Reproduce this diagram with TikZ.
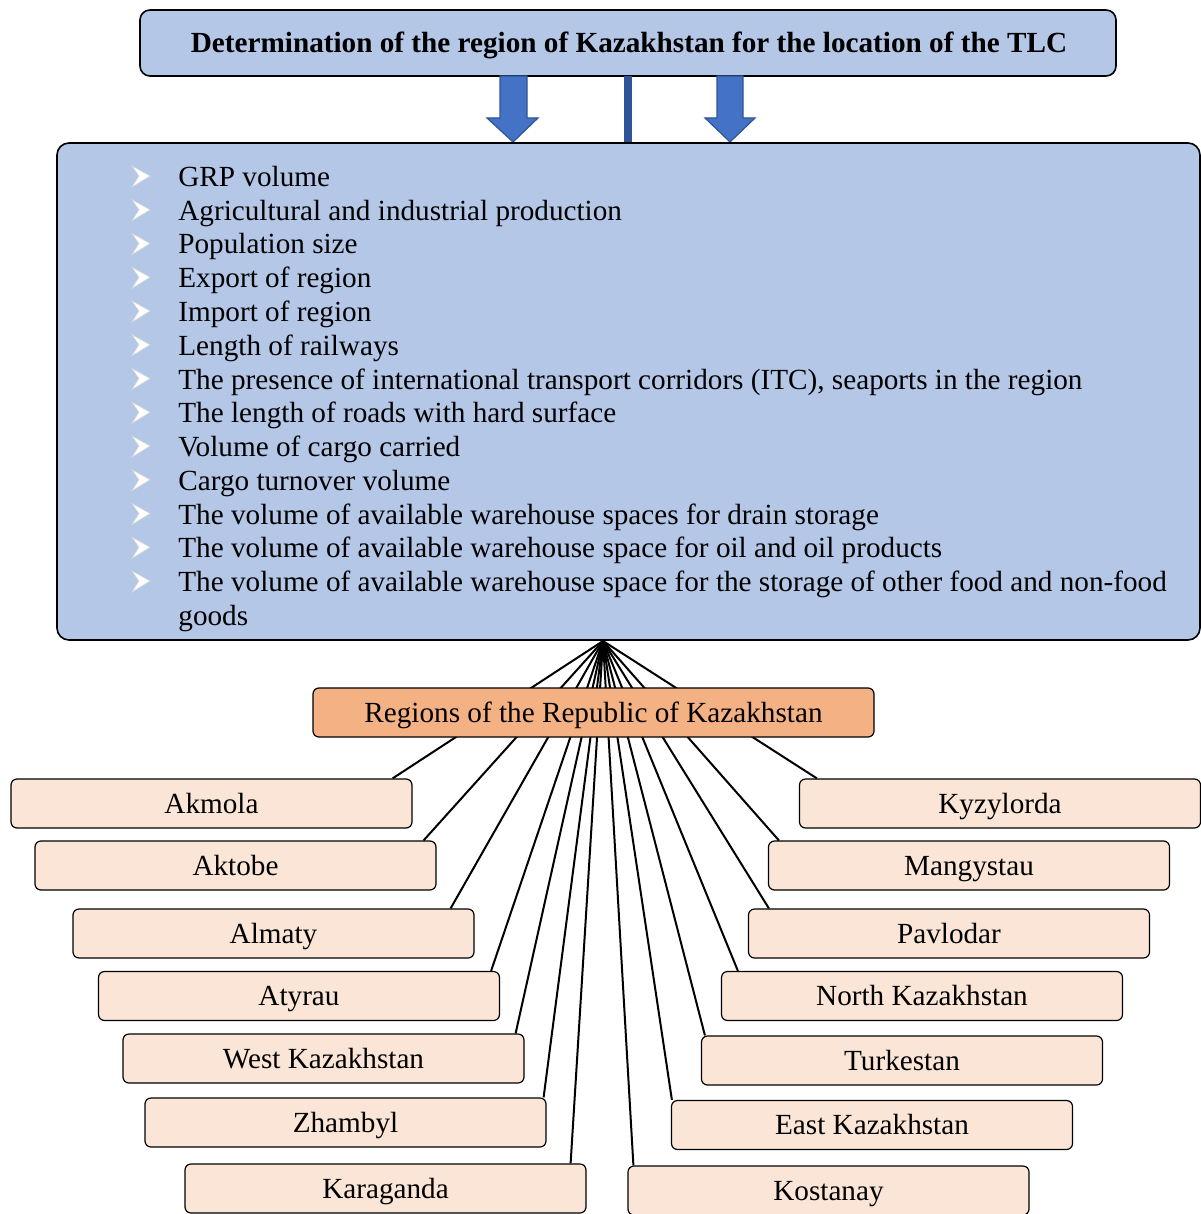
\documentclass[tikz,border=0pt]{standalone}
\usepackage{fontspec}
\setmainfont{Liberation Serif}
\usetikzlibrary{calc}
\definecolor{lblue}{HTML}{B4C7E7}
\definecolor{aroblue}{HTML}{4472C4}
\definecolor{dblue}{HTML}{2F5597}
\definecolor{orng}{HTML}{F4B183}
\definecolor{peach}{HTML}{FBE5D6}
\tikzset{
  topbox/.style={draw=black, line width=0.8pt, fill=lblue, rounded corners=5pt, minimum width=488pt, minimum height=33pt, inner sep=0pt},
  titletext/.style={inner sep=0pt, text height=10.5pt, text depth=1.5pt, font=\fontsize{14.6}{17}\selectfont\bfseries},
  bigbox/.style={draw=black, line width=0.8pt, fill=lblue, rounded corners=6pt, minimum width=571.5pt, minimum height=248.5pt, inner sep=0pt},
  item/.style={anchor=base west, inner sep=0pt, font=\fontsize{14.6}{17}\selectfont},
  bullet/.style={fill=white, draw=white!85!black, line width=0.3pt},
  blockarrow/.style={fill=aroblue, draw=dblue, line width=0.6pt},
  fanline/.style={draw=black, line width=1pt},
  regbox/.style={draw=black, line width=0.6pt, fill=orng, rounded corners=3pt, minimum width=280.5pt, minimum height=24.5pt, inner sep=0pt, text height=11pt, text depth=1.5pt, font=\fontsize{14.6}{17}\selectfont},
  rbox/.style={draw=black, line width=0.6pt, fill=peach, rounded corners=3pt, minimum width=200.5pt, minimum height=24.5pt, inner sep=0pt, text height=11pt, text depth=1.5pt, font=\fontsize{14.6}{17}\selectfont},
}
\begin{document}
\begin{tikzpicture}[x=0.5pt,y=-0.5pt]
\useasboundingbox (0,0) rectangle (1200,1214);
% top box
\node[topbox] (title) at (628,43) {};
\node[titletext] (titlet) at (629,44) {Determination of the region of Kazakhstan for the location of the TLC};
% arrows
\draw[blockarrow] (500,76)--(527,76)--(527,118)--(538,118)--(513,142)--(487,118)--(500,118)--cycle;
\draw[blockarrow] (717,76)--(743,76)--(743,118)--(755,118)--(730,142)--(705,118)--(717,118)--cycle;
\fill[dblue] (624,76) rectangle (632,142);
% big box
\node[bigbox] (criteria) at (628.5,391.5) {};
\foreach \i in {0,...,12}{
  \pgfmathsetmacro{\yy}{186+33.75*\i}
  \draw[bullet] (132,\yy-20) -- (150,\yy-10) -- (132,\yy+1) -- (139,\yy-10) -- cycle;
}
\node[item] (i1) at (178,186.5) {GRP volume};
\node[item] (i2) at (178,220.25) {Agricultural and industrial production};
\node[item] (i3) at (178,254) {Population size};
\node[item] (i4) at (178,287.75) {Export of region};
\node[item] (i5) at (178,321.5) {Import of region};
\node[item] (i6) at (178,355.25) {Length of railways};
\node[item] (i7) at (178,389) {The presence of international transport corridors (ITC), seaports in the region};
\node[item] (i8) at (178,422.75) {The length of roads with hard surface};
\node[item] (i9) at (178,456.5) {Volume of cargo carried};
\node[item] (i10) at (178,490.25) {Cargo turnover volume};
\node[item] (i11) at (178,524) {The volume of available warehouse spaces for drain storage};
\node[item] (i12) at (178,557.75) {The volume of available warehouse space for oil and oil products};
\node[item] (i13) at (178,591.5) {The volume of available warehouse space for the storage of other food and non-food};
\node[item] (i13b) at (178,625.25) {goods};
\coordinate (fan) at (603,641);
% region boxes
\node[rbox] (akmola) at (211.5,803.5) {Akmola};
\node[rbox] (aktobe) at (235.5,865.5) {Aktobe};
\node[rbox] (almaty) at (273.5,933.5) {Almaty};
\node[rbox] (atyrau) at (299,996) {Atyrau};
\node[rbox] (west) at (323.5,1058.5) {West Kazakhstan};
\node[rbox] (zhambyl) at (345.5,1122.5) {Zhambyl};
\node[rbox] (karaganda) at (385.5,1188.5) {Karaganda};
\node[rbox] (kyzylorda) at (1000,803.5) {Kyzylorda};
\node[rbox] (mangystau) at (969,865.5) {Mangystau};
\node[rbox] (pavlodar) at (949,933.5) {Pavlodar};
\node[rbox] (north) at (922,996) {North Kazakhstan};
\node[rbox] (turkestan) at (902,1060.5) {Turkestan};
\node[rbox] (east) at (872,1125) {East Kazakhstan};
\node[rbox] (kostanay) at (828.5,1190.5) {Kostanay};
% fan lines
\draw[fanline] (fan) -- ($(akmola.north east)+(-20,0)$);
\draw[fanline] (fan) -- ($(aktobe.north east)+(-13,0)$);
\draw[fanline] (fan) -- ($(almaty.north east)+(-24,0)$);
\draw[fanline] (fan) -- ($(atyrau.north east)+(-9,0)$);
\draw[fanline] (fan) -- ($(west.north east)+(-9,0)$);
\draw[fanline] (fan) -- ($(zhambyl.north east)+(-3,0)$);
\draw[fanline] (fan) -- ($(karaganda.north east)+(-16,0)$);
\draw[fanline] (fan) -- ($(kostanay.north west)+(6,0)$);
\draw[fanline] (fan) -- ($(east.north west)+(1,0)$);
\draw[fanline] (fan) -- ($(turkestan.north west)+(4,0)$);
\draw[fanline] (fan) -- ($(north.north west)+(17,0)$);
\draw[fanline] (fan) -- ($(pavlodar.north west)+(21,0)$);
\draw[fanline] (fan) -- ($(mangystau.north west)+(11,0)$);
\draw[fanline] (fan) -- ($(kyzylorda.north west)+(18,0)$);
\node[regbox] (regions) at (593.5,712.5) {Regions of the Republic of Kazakhstan};
\end{tikzpicture}
\end{document}
